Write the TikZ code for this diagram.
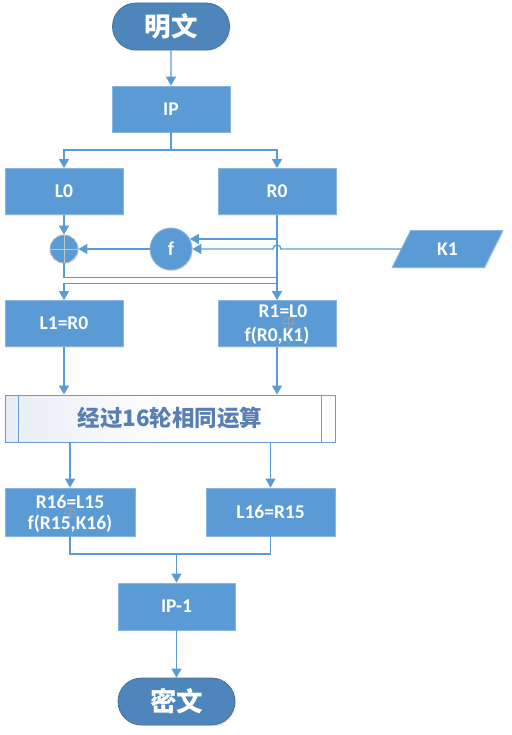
\documentclass[tikz,border=0pt]{standalone}
\usepackage{fontspec}
\setmainfont{Carlito}
\newfontfamily\cjk{Noto Sans CJK SC}
\usetikzlibrary{arrows.meta,shapes.geometric,shapes.misc,shadows,calc}
\definecolor{boxblue}{HTML}{5B9BD5}
\definecolor{boxedge}{HTML}{8AB4E0}
\definecolor{termblue}{HTML}{4E86BC}
\definecolor{termedge}{HTML}{41719C}
\definecolor{linec}{HTML}{5B9BD5}
\definecolor{bigtext}{HTML}{587EB2}
\definecolor{bigedge}{HTML}{6A9AD0}
\definecolor{bigfill}{HTML}{E8EDF5}
\begin{document}
\begin{tikzpicture}[x=1pt,y=-1pt,
  shad/.style={drop shadow={shadow xshift=1.2pt,shadow yshift=-1.2pt,opacity=0.15,fill=black!50}},
  lat/.style={font=\fontsize{19.5}{23}\selectfont\bfseries},
  proc/.style={rectangle,fill=boxblue,draw=boxedge,line width=0.8pt,minimum width=118pt,minimum height=46pt,inner sep=0pt,text=white,lat,align=center,shad},
  term/.style={rounded rectangle,fill=termblue,draw=termedge,line width=0.8pt,minimum width=117pt,minimum height=47pt,inner sep=0pt,text=white,font=\cjk\fontsize{26.5}{30}\selectfont\bfseries,shad},
  txt/.style={text=white,lat,inner sep=0pt},
  oplus/.style={circle,draw=gray!75,line width=0.7pt,minimum size=11pt,inner sep=0pt,opacity=0.9,
    path picture={\draw[gray!75,line width=0.7pt] (path picture bounding box.north) -- (path picture bounding box.south) (path picture bounding box.west) -- (path picture bounding box.east);}},
  xorc/.style={circle,fill=boxblue,draw=gray!55,line width=0.8pt,minimum size=28pt,inner sep=0pt,shad,
    path picture={\draw[gray!45,line width=0.9pt] (path picture bounding box.north) -- (path picture bounding box.south) (path picture bounding box.west) -- (path picture bounding box.east);}},
  fc/.style={circle,fill=boxblue,draw=boxedge,line width=0.8pt,minimum size=42pt,inner sep=0pt,text=white,lat,shad},
  para/.style={trapezium,trapezium left angle=68,trapezium right angle=112,trapezium stretches=true,fill=boxblue,draw=boxedge,line width=0.8pt,minimum width=111pt,minimum height=37pt,inner sep=0pt,text=white,lat,shad},
  bigbox/.style={rectangle,shading=axis,left color=bigfill,right color=white,middle color=white!96!bigfill,draw=bigedge,line width=0.9pt,minimum width=330pt,minimum height=47pt,inner sep=0pt,text=bigtext,font=\cjk\fontsize{22.5}{26}\selectfont\bfseries},
  conn/.style={draw=linec,line width=1.4pt},
  arr/.style={conn,-{Triangle[length=9pt,width=10pt]}},
]
\useasboundingbox (0,0) rectangle (511,735);
% nodes
\node[term] (pt) at (171,26.5) {明文};
\node[proc] (ip) at (171,109) {IP};
\node[proc] (L0) at (64,191.5) {L0};
\node[proc] (R0) at (277,191.5) {R0};
\node[xorc] (xor) at (64,249) {};
\node[fc] (f) at (171,249) {f};
\node[para] (K1) at (447.5,249) {K1};
\node[proc] (L1) at (64,323.5) {L1=R0};
\node[proc] (R1) at (277,323.5) {};
\node[txt] (R1a) at (283,311.5) {R1=L0};
\node[oplus] (R1x) at (288,323) {};
\node[txt] (R1b) at (277,336) {f(R0,K1)};
\node[bigbox] (loop) at (170,418.5) {经过16轮相同运算};
\draw[bigedge,line width=0.9pt] ([xshift=14pt]loop.north west) -- ([xshift=14pt]loop.south west);
\draw[bigedge,line width=0.9pt] ([xshift=-14pt]loop.north east) -- ([xshift=-14pt]loop.south east);
\node[proc,minimum width=130pt,minimum height=48pt] (R16) at (70,512) {};
\node[txt] (R16a) at (70,501.5) {R16=L15};
\node[oplus] (R16x) at (70,513) {};
\node[txt] (R16b) at (70,524) {f(R15,K16)};
\node[proc,minimum width=129pt,minimum height=48pt] (L16) at (270.5,512) {L16=R15};
\node[proc,minimum width=117pt,minimum height=47pt] (ip1) at (176.5,606.5) {IP-1};
\node[term] (ct) at (176.5,701.5) {密文};
% connectors
\draw[arr] (pt) -- (ip);
\coordinate (s1) at (171,150);
\draw[conn] (ip.south) -- (s1);
\draw[arr] (s1) -| (L0.north);
\draw[arr] (s1) -| (R0.north);
\draw[arr] (L0) -- (xor);
\draw[arr] (R0.south) -- (R1.north);
\draw[arr] (R0.south |- f.28) -- (f.28);
\draw[arr] (K1.west) -- ($(R0.south |- K1.west)+(4,0)$) arc[start angle=0,end angle=180,radius=4pt] -- (f.east);
\draw[arr] (f) -- (xor);
\coordinate (j1) at ($(R0.south |- xor.south)+(0,14)$);
\draw[conn] (xor.south) |- (j1);
\coordinate (j2) at ($(R0.south |- xor.south)+(0,20)$);
\draw[arr] (j2) -| (L1.north);
\draw[arr] (L1.south) -- (L1.south |- loop.north);
\draw[arr] (R1.south) -- (R1.south |- loop.north);
\draw[arr] (R16.north |- loop.south) -- (R16.north);
\draw[arr] (L16.north |- loop.south) -- (L16.north);
\coordinate (m) at (176.5,554);
\draw[conn] (R16.south) |- (m);
\draw[conn] (L16.south) |- (m);
\draw[arr] (m) -- (ip1.north);
\draw[arr] (ip1) -- (ct);
\end{tikzpicture}
\end{document}
